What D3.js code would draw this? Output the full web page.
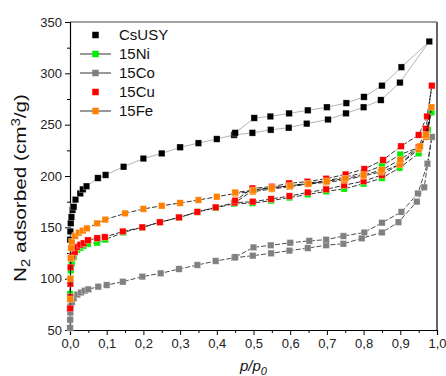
<!DOCTYPE html>
<html>
<head>
<meta charset="utf-8">
<script src="https://cdn.jsdelivr.net/npm/d3@7"></script>
<style>
  body { margin: 0; background: #fff; }
  text { font-family: "Liberation Sans", Arial, sans-serif; }
</style>
</head>
<body>
<svg id="chart" width="446" height="376"></svg>
<script>
// series names + colours (legend order)
const seriesNames = ["CsUSY", "15Ni", "15Co", "15Cu", "15Fe"];
const seriesColors = ["#000000", "#00ee00", "#808080", "#ff0000", "#ff8000"];
const lineColors = ["#a0a0a0", "#000000", "#202020", "#000000", "#000000"];
const legendHasLine = [false, true, true, false, true];

// CsUSY : adsorption then desorption branch (p/p0, cm3/g)
const csusyAdsP = [0.0005, 0.001, 0.002, 0.004, 0.007, 0.01, 0.015, 0.028, 0.035, 0.045, 0.076, 0.097, 0.146, 0.2, 0.25, 0.3, 0.35, 0.4, 0.447, 0.497, 0.547, 0.596, 0.645, 0.703, 0.752, 0.8, 0.847, 0.899, 0.979];
const csusyAdsV = [138, 146, 154, 160, 167, 170, 177, 183, 187, 190, 198, 201, 209, 217, 222, 228, 232, 236, 240, 242, 245, 247, 251, 255, 261, 267, 274, 291, 331];
const csusyDesP = [0.903, 0.85, 0.801, 0.753, 0.7, 0.648, 0.597, 0.546, 0.502, 0.45];
const csusyDesV = [306, 288, 277, 271, 267, 264, 261, 258, 256.5, 242];

// 15Ni
const niAdsP = [0.0003, 0.001, 0.002, 0.005, 0.01, 0.019, 0.028, 0.037, 0.049, 0.074, 0.096, 0.145, 0.197, 0.245, 0.297, 0.347, 0.397, 0.447, 0.497, 0.548, 0.598, 0.648, 0.698, 0.747, 0.8, 0.85, 0.898, 0.95, 0.975, 0.985];
const niAdsV = [85, 100, 108, 115, 121, 128, 130, 132, 134, 135, 138, 145, 150, 155, 159.5, 165, 169, 173, 173.5, 176, 179, 182, 185, 187.5, 192.5, 198, 208, 222, 245, 262];
const niDesP = [0.97, 0.953, 0.9, 0.85, 0.8, 0.75, 0.7, 0.65, 0.6, 0.55, 0.5, 0.45];
const niDesV = [240, 228, 221, 210, 203, 199, 195.5, 193, 190.5, 188.5, 186.5, 174];

// 15Co
const coAdsP = [0.0002, 0.0005, 0.001, 0.002, 0.005, 0.01, 0.02, 0.03, 0.04, 0.05, 0.077, 0.1, 0.144, 0.197, 0.247, 0.297, 0.347, 0.397, 0.448, 0.498, 0.548, 0.598, 0.648, 0.698, 0.745, 0.795, 0.85, 0.895, 0.945, 0.965, 0.986];
const coAdsV = [52, 60, 67, 73, 77, 81, 84.5, 86.5, 88.3, 89.6, 92.2, 93.8, 97, 102, 105.2, 109.4, 113.3, 117.2, 120.4, 122.4, 124.7, 127.3, 129.8, 132.6, 134, 139.3, 145, 155, 175, 189, 238];
const coDesP = [0.974, 0.948, 0.903, 0.85, 0.802, 0.745, 0.698, 0.652, 0.6, 0.547, 0.5, 0.45];
const coDesV = [212, 183, 165, 154.5, 145, 141.5, 138, 136.8, 135, 132.5, 130.5, 121];

// 15Cu
const cuAdsP = [0.0003, 0.0006, 0.001, 0.0015, 0.003, 0.006, 0.013, 0.019, 0.028, 0.037, 0.049, 0.074, 0.095, 0.144, 0.197, 0.245, 0.297, 0.347, 0.397, 0.448, 0.498, 0.548, 0.598, 0.648, 0.698, 0.747, 0.8, 0.85, 0.9, 0.95, 0.97, 0.986];
const cuAdsV = [71, 82, 95, 111, 120, 122, 126, 131, 133, 134.5, 137.5, 139.5, 140.5, 146, 150, 155, 159.7, 165, 169.5, 174, 175, 177.6, 180.5, 184, 187, 191, 195, 201, 212, 228, 246, 288];
const cuDesP = [0.973, 0.95, 0.902, 0.853, 0.802, 0.751, 0.698, 0.647, 0.597, 0.55, 0.497, 0.45];
const cuDesV = [258, 240, 229, 215.6, 206.8, 201.6, 197.4, 194.5, 192.9, 189.6, 188, 176];

// 15Fe
const feAdsP = [0.0005, 0.001, 0.002, 0.003, 0.005, 0.014, 0.024, 0.035, 0.046, 0.074, 0.096, 0.15, 0.2, 0.25, 0.3, 0.35, 0.4, 0.45, 0.498, 0.55, 0.598, 0.648, 0.698, 0.747, 0.8, 0.847, 0.898, 0.95, 0.97, 0.985];
const feAdsV = [80, 100, 120, 130, 136, 141.6, 144.8, 146.8, 149, 153.9, 157.5, 163.6, 167.9, 171, 173.7, 176.6, 179.8, 183, 184.7, 187.3, 189.6, 192, 193.9, 196, 200, 204, 211, 226, 238, 267];
const feDesP = [0.97, 0.954, 0.9, 0.85, 0.8, 0.75, 0.7, 0.65, 0.6, 0.55, 0.5, 0.45];
const feDesV = [240, 229, 216, 206, 201, 197.5, 195, 192.5, 190.5, 188.5, 186, 184];

const xTicks = [0, 0.1, 0.2, 0.3, 0.4, 0.5, 0.6, 0.7, 0.8, 0.9, 1.0];
const yTicks = [50, 100, 150, 200, 250, 300, 350];

function pts(ap, av, dp, dv) {
    let out = [];
    for (let i = 0; i < ap.length; i++) out.push({p: ap[i], v: av[i]});
    for (let i = 0; i < dp.length; i++) out.push({p: dp[i], v: dv[i]});
    return out;
}

const data = [
    pts(csusyAdsP, csusyAdsV, csusyDesP, csusyDesV),
    pts(niAdsP, niAdsV, niDesP, niDesV),
    pts(coAdsP, coAdsV, coDesP, coDesV),
    pts(cuAdsP, cuAdsV, cuDesP, cuDesV),
    pts(feAdsP, feAdsV, feDesP, feDesV)
];

const mLeft = 70, mRight = 437, mTop = 22, mBottom = 330;
const svg = d3.select("#chart");

const x = d3.scaleLinear().domain([0, 1]).range([mLeft, mRight]);
const y = d3.scaleLinear().domain([50, 350]).range([mBottom, mTop]);

const comma = function(d) { return d3.format(".1f")(d).replace(".", ","); };

// frame (top + right)
svg.append("line").attr("x1", mLeft).attr("x2", mRight).attr("y1", mTop).attr("y2", mTop)
    .attr("stroke", "#444").attr("stroke-width", 1);
svg.append("line").attr("x1", mRight).attr("x2", mRight).attr("y1", mTop).attr("y2", mBottom)
    .attr("stroke", "#666").attr("stroke-width", 2);

// minor ticks
const xMinor = d3.range(0.05, 1, 0.1);
const yMinor = d3.range(75, 350, 50);
svg.append("g").attr("transform", "translate(0," + mBottom + ")")
    .call(d3.axisBottom(x).tickValues(xMinor).tickSize(3).tickFormat(""))
    .call(g => g.select(".domain").remove());
svg.append("g").attr("transform", "translate(" + mLeft + ",0)")
    .call(d3.axisLeft(y).tickValues(yMinor).tickSize(3).tickFormat(""))
    .call(g => g.select(".domain").remove());

// major axes
const xAxis = svg.append("g").attr("transform", "translate(0," + mBottom + ")")
    .call(d3.axisBottom(x).tickValues(xTicks).tickSize(5).tickPadding(4).tickFormat(comma));
const yAxis = svg.append("g").attr("transform", "translate(" + mLeft + ",0)")
    .call(d3.axisLeft(y).tickValues(yTicks).tickSize(5).tickPadding(3));
[xAxis, yAxis].forEach(function(a) {
    a.selectAll("text").attr("font-size", 13).attr("fill", "#222")
        .attr("font-family", "Liberation Sans, Arial, sans-serif");
    a.select(".domain").attr("stroke-width", 1.2);
});

// axis titles (reference title is stretched along its length)
const yt = svg.append("text")
    .attr("transform", "translate(26," + ((mTop + mBottom) / 2 + 12) + ") rotate(-90) scale(1.22,1)")
    .attr("text-anchor", "middle").attr("font-size", 17).attr("fill", "#111");
yt.append("tspan").text("N");
yt.append("tspan").attr("font-size", 12).attr("dy", 4).text("2");
yt.append("tspan").attr("dy", -4).text(" adsorbed (cm");
yt.append("tspan").attr("font-size", 12).attr("dy", -6).text("3");
yt.append("tspan").attr("dy", 6).text("/g)");

const xt = svg.append("text")
    .attr("x", (mLeft + mRight) / 2).attr("y", 371)
    .attr("text-anchor", "middle").attr("font-size", 15).attr("font-style", "italic").attr("fill", "#111");
xt.append("tspan").text("p/p");
xt.append("tspan").attr("font-size", 11).attr("dy", 4).text("0");

// lines + markers
const line = d3.line().x(d => x(d.p)).y(d => y(d.v));
const ms = 6.5;

data.forEach(function(series, i) {
    const g = svg.append("g");
    g.append("path")
        .attr("d", line(series))
        .attr("fill", "none")
        .attr("stroke", lineColors[i])
        .attr("stroke-width", 0.8)
        .attr("stroke-dasharray", i == 0 ? null : "5,2");
    g.selectAll("rect")
        .data(series)
        .enter()
        .append("rect")
        .attr("x", d => x(d.p) - ms / 2)
        .attr("y", d => y(d.v) - ms / 2)
        .attr("width", ms)
        .attr("height", ms)
        .attr("fill", seriesColors[i])
        .attr("stroke", "#fff")
        .attr("stroke-opacity", 0.5)
        .attr("stroke-width", 0.6);
});

// legend
const legend = svg.append("g");
seriesNames.forEach(function(name, i) {
    const ly = 35 + i * 19;
    if (legendHasLine[i]) {
        legend.append("line").attr("x1", 80).attr("x2", 111).attr("y1", ly).attr("y2", ly)
            .attr("stroke", "#000").attr("stroke-width", 0.8);
    }
    legend.append("rect").attr("x", 95.5 - ms / 2).attr("y", ly - ms / 2)
        .attr("width", ms).attr("height", ms).attr("fill", seriesColors[i]);
    legend.append("text").attr("x", 119).attr("y", ly).attr("dy", "0.36em")
        .attr("font-size", 15).attr("fill", "#111").text(name);
});
</script>
</body>
</html>
